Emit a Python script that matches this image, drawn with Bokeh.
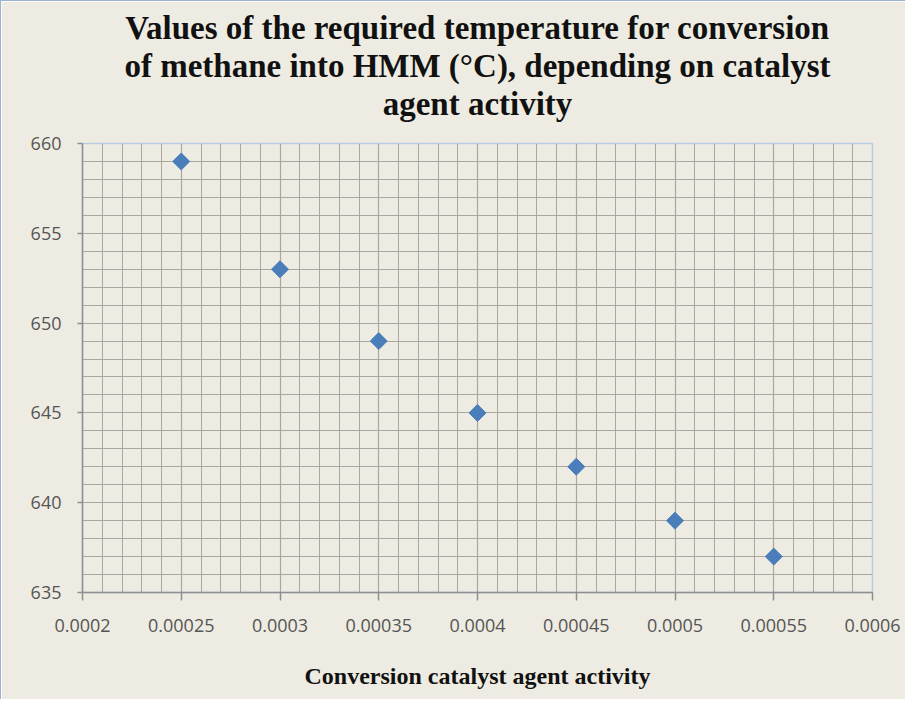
import numpy as np
from bokeh.plotting import figure
from bokeh.models import FixedTicker, Range1d, Title, ColumnDataSource
from bokeh.embed import file_html
from bokeh.resources import INLINE

activity = [0.00025, 0.0003, 0.00035, 0.0004, 0.00045, 0.0005, 0.00055]
temperature = [659, 653, 649, 645, 642, 639, 637]

x_ticks = [0.0002, 0.00025, 0.0003, 0.00035, 0.0004, 0.00045, 0.0005, 0.00055, 0.0006]
x_tick_labels = ["0.0002", "0.00025", "0.0003", "0.00035", "0.0004", "0.00045", "0.0005", "0.00055", "0.0006"]
y_ticks = [635, 640, 645, 650, 655, 660]
y_tick_labels = ["635", "640", "645", "650", "655", "660"]

title_lines = ["Values of the required temperature for conversion",
               "of methane into HMM (°C), depending on catalyst",
               "agent activity"]
x_title = "Conversion catalyst agent activity"

BG = "#EEECE2"
GRID = "#A9A7A0"

p = figure(width=905, height=699, output_backend="svg", toolbar_location=None,
           x_range=Range1d(x_ticks[0], x_ticks[-1]), y_range=Range1d(y_ticks[0], y_ticks[-1]),
           min_border_left=81, min_border_right=34, min_border_top=142, min_border_bottom=108)
p.background_fill_color = BG
p.border_fill_color = BG
p.outline_line_color = "#B8CCE4"
p.outline_line_width = 1.5
p.styles = {"border-top": "1px solid #9BB3CF", "border-left": "1px solid #9BB3CF"}

x_minor = list(np.round(np.arange(x_ticks[0], x_ticks[-1] + 1e-9, 0.00001), 6))
y_minor = list(np.arange(y_ticks[0], y_ticks[-1] + 1, 1))

p.xaxis.ticker = FixedTicker(ticks=x_ticks, minor_ticks=x_minor)
p.yaxis.ticker = FixedTicker(ticks=y_ticks, minor_ticks=y_minor)
p.xaxis.major_label_overrides = dict(zip(x_ticks, x_tick_labels))
p.yaxis.major_label_overrides = dict(zip(y_ticks, y_tick_labels))

for ax in (p.xaxis, p.yaxis):
    ax.axis_line_color = "#8E8E8E"
    ax.axis_line_width = 1.5
    ax.major_tick_line_color = "#8E8E8E"
    ax.major_tick_line_width = 1.5
    ax.major_tick_in = 0
    ax.minor_tick_in = 0
    ax.minor_tick_out = 0
    ax.major_label_text_font = "Open Sans"
    ax.major_label_text_font_size = "18px"
    ax.major_label_text_color = "#555555"
p.xaxis.major_tick_out = 8
p.yaxis.major_tick_out = 5
p.xaxis.major_label_standoff = 18
p.yaxis.major_label_standoff = 16

p.xaxis.axis_label = x_title
p.xaxis.axis_label_text_font = "Liberation Serif"
p.xaxis.axis_label_text_font_style = "bold"
p.xaxis.axis_label_text_font_size = "24px"
p.xaxis.axis_label_text_color = "#111111"
p.xaxis.axis_label_standoff = 28

for g in (p.xgrid, p.ygrid):
    g.grid_line_color = GRID
    g.grid_line_width = 1.2
    g.minor_grid_line_color = GRID
    g.minor_grid_line_width = 1

src = ColumnDataSource(dict(x=activity, y=temperature))
p.scatter("x", "y", source=src, marker="square", size=12, angle=np.pi / 4,
          fill_color="#4A7EBB", line_color="#4A7EBB")

# spacer between the frame and the title block
p.add_layout(Title(text=" ", text_font_size="10px", standoff=9), "above")
for line in reversed(title_lines):
    p.add_layout(Title(text=line, align="center", offset=4, text_font="Liberation Serif",
                       text_font_style="bold", text_font_size="33px", text_color="#111111",
                       standoff=0), "above")

open("out.html", "w").write(file_html(p, INLINE))
